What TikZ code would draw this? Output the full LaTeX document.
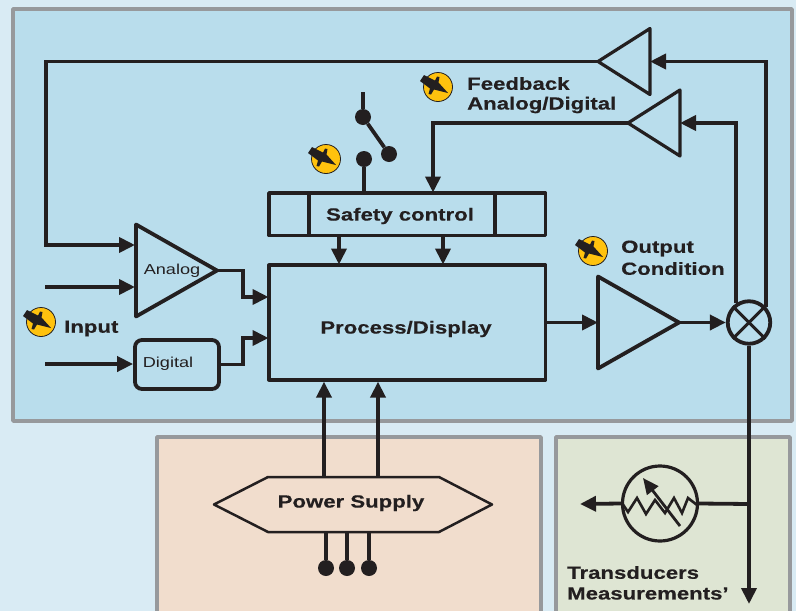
\documentclass[tikz,border=0pt]{standalone}
\usepackage{fontspec}
\setmainfont{Liberation Sans}[FakeStretch=1.26, BoldFeatures={FakeBold=0.4}]
\usepackage{tikz}
\usetikzlibrary{arrows.meta}
\definecolor{inkBlack}{HTML}{231F20}
\definecolor{pageBlue}{HTML}{D9EBF4}
\definecolor{panelBlue}{HTML}{B9DDEC}
\definecolor{panelPeach}{HTML}{F1DDCD}
\definecolor{panelGreen}{HTML}{DEE5D3}
\definecolor{panelEdge}{HTML}{97999C}
\definecolor{gaugeYellow}{HTML}{FFC20E}
\tikzset{
	panel/.style={draw=panelEdge, line width=3.6pt, line join=round},
	block/.style={draw=inkBlack, line width=3.8pt, line join=round, inner sep=0pt},
	wire/.style={draw=inkBlack, line width=3.8pt, line join=miter},
	wireTo/.style={wire, -{Triangle[length=16pt, width=15pt]}},
	tag/.style={text=inkBlack, inner sep=0pt, font=\fontsize{17.6}{21}\selectfont\bfseries},
	smallTag/.style={text=inkBlack, inner sep=0pt, font=\fontsize{14.4}{16}\selectfont},
}
\newcommand{\gauge}[3]{
	\node[circle, draw=inkBlack, line width=0.8pt, fill=gaugeYellow, minimum size=29pt, inner sep=0pt] (#3) at (#1, #2) {};
	\fill[inkBlack, shift={(#3)}] (-18,-6) -- (-14,-12) -- (-3,-6.5) -- (-1,-10.5) -- (1.5,-10) -- (0.5,-4.5)
		-- (10,6) -- (-4,2.5) -- (-7,7.5) -- (-9.5,7) -- (-8,1.5) -- cycle;
}
\newcommand{\amp}[6][3.8pt]{
	\coordinate (#6Tip) at (#2, #3);
	\coordinate (#6In) at (#4, #3);
	\draw[draw=inkBlack, line width=#1, line join=round] (#6Tip) -- (#4, #3 - #5) -- (#4, #3 + #5) -- cycle;
}
\newcommand{\terminal}[3]{
	\node[circle, fill=inkBlack, minimum size=16pt, inner sep=0pt] (#3) at (#1, #2) {};
}

\begin{document}
\begin{tikzpicture}[x=1pt, y=-1pt]
	\useasboundingbox (0,0) rectangle (796,611);
	\clip (0,0) rectangle (796,611);
	\fill[pageBlue] (0,0) rectangle (796,611);

	% panels
	\path[panel, fill=panelBlue] (13,9) rectangle (792,421);
	\path[panel, fill=panelPeach] (157,437) rectangle (541,630);
	\path[panel, fill=panelGreen] (556,437) rectangle (790,630);

	% blocks
	\node[block, minimum width=276.5pt, minimum height=114.5pt] (process) at (407.25,322.5) {};
	\node[tag] (processLabel) at (406,329) {Process/Display};
	\node[block, minimum width=276.5pt, minimum height=42.5pt] (safety) at (407.25,214.25) {};
	\node[tag] (safetyLabel) at (400,216) {Safety control};
	\draw[wire] (safety.north west) ++(42,0) -- ++(0,44);
	\draw[wire] (safety.north east) ++(-52.4,0) -- ++(0,44);
	\node[block, rounded corners=7pt, minimum width=84pt, minimum height=49pt] (digital) at (177,364.5) {};
	\node[smallTag] (digitalLabel) at (168,364) {Digital};

	\amp{217}{270.5}{136}{46}{analog};
	\node[smallTag] (analogLabel) at (172,271) {Analog};
	\amp{679}{322.5}{598}{46}{output};
	\amp[3.2pt]{598}{61.5}{650}{33}{fbDigital};
	\amp[3.2pt]{628}{123}{680}{33}{fbAnalog};

	% mixer
	\node[circle, block, minimum size=42.5pt] (mixer) at (749,322.5) {};
	\draw[wire, line width=3pt] (mixer.45) -- (mixer.225);
	\draw[wire, line width=3pt] (mixer.135) -- (mixer.315);

	% switch
	\coordinate (switchTop) at (363,92);
	\terminal{363}{117}{switchA};
	\terminal{389}{154}{switchB};
	\terminal{364}{159}{switchC};
	\draw[wire] (switchTop) -- (switchA);
	\draw[wire] (switchA) -- (switchB);
	\draw[wire] (switchC) -- (switchC |- safety.north);

	% inputs
	\coordinate (inAnalogA) at (46,61.5);
	\coordinate (inAnalogC) at (135,245);
	\coordinate (inAnalogB) at (45,287);
	\coordinate (inAnalogD) at (135,287);
	\coordinate (inDigital) at (45,364);
	\coordinate (procInA) at (268.5,297);
	\coordinate (procInB) at (268.5,338);
	\coordinate (safeInA) at (339,264.5);
	\coordinate (safeInB) at (443,264.5);
	\draw[wireTo] (fbDigitalTip) -- (inAnalogA) |- (inAnalogC);
	\draw[wireTo] (inAnalogB) -- (inAnalogD);
	\draw[wireTo] (inDigital) -- (inDigital -| digital.west);
	\draw[wireTo] (analogTip) -- (243,270.5) |- (procInA);
	\draw[wireTo] (digital.east) -- (243,364.5) |- (procInB);
	\draw[wireTo] (safeInA |- safety.south) -- (safeInA);
	\draw[wireTo] (safeInB |- safety.south) -- (safeInB);
	\draw[wireTo] (fbAnalogTip) -| (433,192.5);
	\draw[wireTo] (process.east |- outputIn) -- (outputIn);
	\draw[wireTo] (outputTip) -- (mixer.west);
	\draw[wireTo] (mixer.42) |- (fbDigitalIn);
	\draw[wireTo] (mixer.124) |- (fbAnalogIn);

	% power supply
	\coordinate (hexLeft) at (214,504.5);
	\coordinate (hexRight) at (492,504.5);
	\draw[draw=inkBlack, line width=2.5pt, line join=round] (hexLeft) -- (268,477) -- (439,477) -- (hexRight) -- (439,532) -- (268,532) -- cycle;
	\node[tag] (powerLabel) at (351,503) {Power Supply};
	\coordinate (powerA) at (324,477);
	\coordinate (powerB) at (378,477);
	\draw[wireTo] (powerA) -- (powerA |- process.south);
	\draw[wireTo] (powerB) -- (powerB |- process.south);
	\terminal{326}{568}{mainsA};
	\terminal{347}{568}{mainsB};
	\terminal{369}{568}{mainsC};
	\foreach \mainsName in {mainsA,mainsB,mainsC} {
		\draw[wire] (\mainsName) -- (\mainsName |- 0,532);
	}

	% transducer
	\node[circle, draw=inkBlack, line width=3.2pt, minimum size=75pt, inner sep=0pt] (transducer) at (660,503.5) {};
	\coordinate (tap) at (749,504);
	\coordinate (measEnd) at (749,604);
	\coordinate (transOut) at (580,504);
	\draw[wireTo] (mixer.south) -- (measEnd);
	\draw[wire] (tap) -- (transducer.east);
	\draw[wireTo] (transducer.west) -- (transOut);
	\draw[wire, line width=2.6pt] (622,503) -- (628,512) -- (637,498) -- (646,514) -- (655,500) -- (665,513)
		-- (674,498) -- (682,513) -- (688,498) -- (697,505);
	\draw[wire, line width=2.8pt, -{Triangle[length=16pt, width=14pt]}] (680,526) -- (643,478);

	% labels
	\gauge{41}{322}{gaugeInput};
	\gauge{326}{159}{gaugeSafety};
	\gauge{438}{87}{gaugeFeedback};
	\gauge{593}{251}{gaugeOutput};
	\node[tag, anchor=west] (inputLabel) at (64,328.5) {Input};
	\node[tag, anchor=west] (feedbackLabel) at (467,83.5) {Feedback};
	\node[tag, anchor=west] (feedbackLabelB) at (467,105) {Analog/Digital};
	\node[tag, anchor=west] (outputLabel) at (621,248.5) {Output};
	\node[tag, anchor=west] (outputLabelB) at (621,268.5) {Condition};
	\node[tag, anchor=west] (transLabel) at (567,572.5) {Transducers};
	\node[tag, anchor=west] (transLabelB) at (567,593.5) {Measurements'};
\end{tikzpicture}
\end{document}
